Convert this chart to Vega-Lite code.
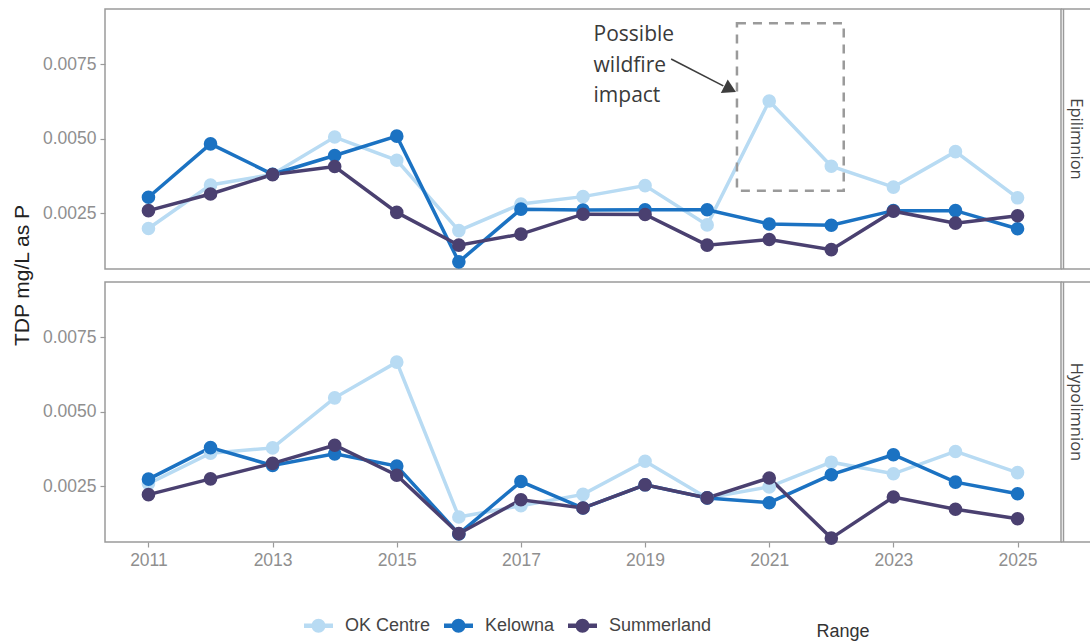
{
  "$schema": "https://vega.github.io/schema/vega-lite/v6.json",
  "background": "white",
  "padding": {"left": 11, "top": 7, "right": 0, "bottom": 0},
  "bounds": "flush",
  "data": {"values": [
    {"k":"obs","layer":"Epilimnion","site":"OK Centre","year":2011,"tdp":0.00198},
    {"k":"obs","layer":"Epilimnion","site":"OK Centre","year":2012,"tdp":0.00344},
    {"k":"obs","layer":"Epilimnion","site":"OK Centre","year":2013,"tdp":0.0038},
    {"k":"obs","layer":"Epilimnion","site":"OK Centre","year":2014,"tdp":0.00505},
    {"k":"obs","layer":"Epilimnion","site":"OK Centre","year":2015,"tdp":0.00427},
    {"k":"obs","layer":"Epilimnion","site":"OK Centre","year":2016,"tdp":0.00191},
    {"k":"obs","layer":"Epilimnion","site":"OK Centre","year":2017,"tdp":0.0028},
    {"k":"obs","layer":"Epilimnion","site":"OK Centre","year":2018,"tdp":0.00305},
    {"k":"obs","layer":"Epilimnion","site":"OK Centre","year":2019,"tdp":0.00342},
    {"k":"obs","layer":"Epilimnion","site":"OK Centre","year":2020,"tdp":0.0021},
    {"k":"obs","layer":"Epilimnion","site":"OK Centre","year":2021,"tdp":0.00626},
    {"k":"obs","layer":"Epilimnion","site":"OK Centre","year":2022,"tdp":0.00407},
    {"k":"obs","layer":"Epilimnion","site":"OK Centre","year":2023,"tdp":0.00337},
    {"k":"obs","layer":"Epilimnion","site":"OK Centre","year":2024,"tdp":0.00456},
    {"k":"obs","layer":"Epilimnion","site":"OK Centre","year":2025,"tdp":0.00301},
    {"k":"obs","layer":"Hypolimnion","site":"OK Centre","year":2011,"tdp":0.00258},
    {"k":"obs","layer":"Hypolimnion","site":"OK Centre","year":2012,"tdp":0.0036},
    {"k":"obs","layer":"Hypolimnion","site":"OK Centre","year":2013,"tdp":0.00378},
    {"k":"obs","layer":"Hypolimnion","site":"OK Centre","year":2014,"tdp":0.00546},
    {"k":"obs","layer":"Hypolimnion","site":"OK Centre","year":2015,"tdp":0.00666},
    {"k":"obs","layer":"Hypolimnion","site":"OK Centre","year":2016,"tdp":0.00146},
    {"k":"obs","layer":"Hypolimnion","site":"OK Centre","year":2017,"tdp":0.00184},
    {"k":"obs","layer":"Hypolimnion","site":"OK Centre","year":2018,"tdp":0.00222},
    {"k":"obs","layer":"Hypolimnion","site":"OK Centre","year":2019,"tdp":0.00333},
    {"k":"obs","layer":"Hypolimnion","site":"OK Centre","year":2020,"tdp":0.0021},
    {"k":"obs","layer":"Hypolimnion","site":"OK Centre","year":2021,"tdp":0.00247},
    {"k":"obs","layer":"Hypolimnion","site":"OK Centre","year":2022,"tdp":0.0033},
    {"k":"obs","layer":"Hypolimnion","site":"OK Centre","year":2023,"tdp":0.00291},
    {"k":"obs","layer":"Hypolimnion","site":"OK Centre","year":2024,"tdp":0.00366},
    {"k":"obs","layer":"Hypolimnion","site":"OK Centre","year":2025,"tdp":0.00295},
    {"k":"obs","layer":"Epilimnion","site":"Kelowna","year":2011,"tdp":0.00303},
    {"k":"obs","layer":"Epilimnion","site":"Kelowna","year":2012,"tdp":0.00482},
    {"k":"obs","layer":"Epilimnion","site":"Kelowna","year":2013,"tdp":0.0038},
    {"k":"obs","layer":"Epilimnion","site":"Kelowna","year":2014,"tdp":0.00443},
    {"k":"obs","layer":"Epilimnion","site":"Kelowna","year":2015,"tdp":0.00508},
    {"k":"obs","layer":"Epilimnion","site":"Kelowna","year":2016,"tdp":0.00086},
    {"k":"obs","layer":"Epilimnion","site":"Kelowna","year":2017,"tdp":0.00263},
    {"k":"obs","layer":"Epilimnion","site":"Kelowna","year":2018,"tdp":0.0026},
    {"k":"obs","layer":"Epilimnion","site":"Kelowna","year":2019,"tdp":0.00261},
    {"k":"obs","layer":"Epilimnion","site":"Kelowna","year":2020,"tdp":0.00261},
    {"k":"obs","layer":"Epilimnion","site":"Kelowna","year":2021,"tdp":0.00213},
    {"k":"obs","layer":"Epilimnion","site":"Kelowna","year":2022,"tdp":0.00209},
    {"k":"obs","layer":"Epilimnion","site":"Kelowna","year":2023,"tdp":0.00258},
    {"k":"obs","layer":"Epilimnion","site":"Kelowna","year":2024,"tdp":0.00258},
    {"k":"obs","layer":"Epilimnion","site":"Kelowna","year":2025,"tdp":0.00197},
    {"k":"obs","layer":"Hypolimnion","site":"Kelowna","year":2011,"tdp":0.00273},
    {"k":"obs","layer":"Hypolimnion","site":"Kelowna","year":2012,"tdp":0.00379},
    {"k":"obs","layer":"Hypolimnion","site":"Kelowna","year":2013,"tdp":0.00319},
    {"k":"obs","layer":"Hypolimnion","site":"Kelowna","year":2014,"tdp":0.00358},
    {"k":"obs","layer":"Hypolimnion","site":"Kelowna","year":2015,"tdp":0.00317},
    {"k":"obs","layer":"Hypolimnion","site":"Kelowna","year":2016,"tdp":0.00089},
    {"k":"obs","layer":"Hypolimnion","site":"Kelowna","year":2017,"tdp":0.00265},
    {"k":"obs","layer":"Hypolimnion","site":"Kelowna","year":2018,"tdp":0.00176},
    {"k":"obs","layer":"Hypolimnion","site":"Kelowna","year":2019,"tdp":0.00254},
    {"k":"obs","layer":"Hypolimnion","site":"Kelowna","year":2020,"tdp":0.0021},
    {"k":"obs","layer":"Hypolimnion","site":"Kelowna","year":2021,"tdp":0.00194},
    {"k":"obs","layer":"Hypolimnion","site":"Kelowna","year":2022,"tdp":0.00288},
    {"k":"obs","layer":"Hypolimnion","site":"Kelowna","year":2023,"tdp":0.00355},
    {"k":"obs","layer":"Hypolimnion","site":"Kelowna","year":2024,"tdp":0.00263},
    {"k":"obs","layer":"Hypolimnion","site":"Kelowna","year":2025,"tdp":0.00224},
    {"k":"obs","layer":"Epilimnion","site":"Summerland","year":2011,"tdp":0.00258},
    {"k":"obs","layer":"Epilimnion","site":"Summerland","year":2012,"tdp":0.00314},
    {"k":"obs","layer":"Epilimnion","site":"Summerland","year":2013,"tdp":0.00379},
    {"k":"obs","layer":"Epilimnion","site":"Summerland","year":2014,"tdp":0.00406},
    {"k":"obs","layer":"Epilimnion","site":"Summerland","year":2015,"tdp":0.00252},
    {"k":"obs","layer":"Epilimnion","site":"Summerland","year":2016,"tdp":0.00142},
    {"k":"obs","layer":"Epilimnion","site":"Summerland","year":2017,"tdp":0.00179},
    {"k":"obs","layer":"Epilimnion","site":"Summerland","year":2018,"tdp":0.00246},
    {"k":"obs","layer":"Epilimnion","site":"Summerland","year":2019,"tdp":0.00245},
    {"k":"obs","layer":"Epilimnion","site":"Summerland","year":2020,"tdp":0.00142},
    {"k":"obs","layer":"Epilimnion","site":"Summerland","year":2021,"tdp":0.00161},
    {"k":"obs","layer":"Epilimnion","site":"Summerland","year":2022,"tdp":0.00127},
    {"k":"obs","layer":"Epilimnion","site":"Summerland","year":2023,"tdp":0.00256},
    {"k":"obs","layer":"Epilimnion","site":"Summerland","year":2024,"tdp":0.00216},
    {"k":"obs","layer":"Epilimnion","site":"Summerland","year":2025,"tdp":0.00241},
    {"k":"obs","layer":"Hypolimnion","site":"Summerland","year":2011,"tdp":0.00221},
    {"k":"obs","layer":"Hypolimnion","site":"Summerland","year":2012,"tdp":0.00274},
    {"k":"obs","layer":"Hypolimnion","site":"Summerland","year":2013,"tdp":0.00326},
    {"k":"obs","layer":"Hypolimnion","site":"Summerland","year":2014,"tdp":0.00387},
    {"k":"obs","layer":"Hypolimnion","site":"Summerland","year":2015,"tdp":0.00286},
    {"k":"obs","layer":"Hypolimnion","site":"Summerland","year":2016,"tdp":0.0009},
    {"k":"obs","layer":"Hypolimnion","site":"Summerland","year":2017,"tdp":0.00204},
    {"k":"obs","layer":"Hypolimnion","site":"Summerland","year":2018,"tdp":0.00176},
    {"k":"obs","layer":"Hypolimnion","site":"Summerland","year":2019,"tdp":0.00254},
    {"k":"obs","layer":"Hypolimnion","site":"Summerland","year":2020,"tdp":0.0021},
    {"k":"obs","layer":"Hypolimnion","site":"Summerland","year":2021,"tdp":0.00277},
    {"k":"obs","layer":"Hypolimnion","site":"Summerland","year":2022,"tdp":0.00075},
    {"k":"obs","layer":"Hypolimnion","site":"Summerland","year":2023,"tdp":0.00213},
    {"k":"obs","layer":"Hypolimnion","site":"Summerland","year":2024,"tdp":0.00172},
    {"k":"obs","layer":"Hypolimnion","site":"Summerland","year":2025,"tdp":0.0014},
    {"k":"box","layer":"Epilimnion","year":2020.48,"year2":2022.2,"tdp":0.00325,"tdp2":0.00887},
    {"k":"arrow","layer":"Epilimnion","year":2019.42,"year2":2020.26,"tdp":0.00767,"tdp2":0.00677},
    {"k":"head","layer":"Epilimnion","year":2020.37,"tdp":0.00666},
    {"k":"note","layer":"Epilimnion","year":2018.17,"tdp":0.00827,"label":"Possible"},
    {"k":"note","layer":"Epilimnion","year":2018.17,"tdp":0.00724,"label":"wildfire"},
    {"k":"note","layer":"Epilimnion","year":2018.17,"tdp":0.00623,"label":"impact"},
    {"k":"ytitle","layer":"Epilimnion","year":2008.98,"tdp":0.000402,"label":"TDP  mg/L as P"},
    {"k":"range","layer":"Hypolimnion","year":2021.76,"tdp":-0.0024,"label":"Range"},
    {"k":"stripv","layer":"Epilimnion","year":2025.74,"tdp":0.00062,"tdp2":0.00935},
    {"k":"stripv","layer":"Hypolimnion","year":2025.74,"tdp":0.00062,"tdp2":0.00935},
    {"k":"striph","layer":"Epilimnion","year":2025.7,"year2":2026.18,"tdp":0.00935},
    {"k":"striph","layer":"Epilimnion","year":2025.7,"year2":2026.18,"tdp":0.00062},
    {"k":"striph","layer":"Hypolimnion","year":2025.7,"year2":2026.18,"tdp":0.00935},
    {"k":"striph","layer":"Hypolimnion","year":2025.7,"year2":2026.18,"tdp":0.00062}
  ]},
  "facet": {
    "row": {
      "field": "layer", "type": "nominal", "sort": ["Epilimnion", "Hypolimnion"],
      "title": null,
      "header": {
        "labelOrient": "right", "labelAngle": 90, "labelFont": "Open Sans",
        "labelFontSize": 16.5, "labelColor": "#444", "labelPadding": 6
      }
    }
  },
  "spacing": 13,
  "spec": {
    "width": 956,
    "height": 260,
    "encoding": {
      "x": {"field": "year", "type": "quantitative",
            "scale": {"domain": [2010.3, 2025.7], "nice": false, "zero": false},
            "axis": {"title": null, "values": [2011, 2013, 2015, 2017, 2019, 2021, 2023, 2025], "format": "d"}},
      "y": {"field": "tdp", "type": "quantitative",
            "scale": {"domain": [0.00062, 0.00935], "nice": false, "zero": false},
            "axis": {"title": null, "values": [0.0025, 0.005, 0.0075], "format": ".4f"}}
    },
    "layer": [
      {
        "transform": [{"filter": "datum.k === 'obs'"}],
        "mark": {"type": "line", "strokeWidth": 3.5},
        "encoding": {
          "color": {"field": "site", "type": "nominal",
                    "scale": {"domain": ["OK Centre", "Kelowna", "Summerland"], "range": ["#b8dbf3", "#1b72c2", "#4a4070"]}}
        }
      },
      {
        "transform": [{"filter": "datum.k === 'obs'"}],
        "mark": {"type": "point", "filled": true, "size": 185, "opacity": 1, "strokeWidth": 0},
        "encoding": {
          "color": {"field": "site", "type": "nominal",
                    "scale": {"domain": ["OK Centre", "Kelowna", "Summerland"], "range": ["#b8dbf3", "#1b72c2", "#4a4070"]},
                    "legend": {
                      "title": null, "orient": "none", "direction": "horizontal",
                      "legendX": 199, "legendY": 602,
                      "symbolType": "M-1,-0.15L1,-0.15L1,0.15L-1,0.15Z M0.48,0A0.48,0.48 0 1,1 -0.48,0A0.48,0.48 0 1,1 0.48,0Z",
                      "symbolSize": 841, "symbolStrokeWidth": 0, "symbolOpacity": 1,
                      "labelFont": "Liberation Sans", "labelFontSize": 18, "labelColor": "#444",
                      "labelOffset": 12, "columnPadding": 13, "padding": 0
                    }}
        }
      },
      {
        "transform": [{"filter": "datum.k === 'box'"}],
        "mark": {"type": "rect", "fill": null, "fillOpacity": 0, "stroke": "#9a9a9a", "strokeWidth": 2.5, "strokeDash": [9, 7]},
        "encoding": {"x2": {"field": "year2"}, "y2": {"field": "tdp2"}}
      },
      {
        "transform": [{"filter": "datum.k === 'arrow'"}],
        "mark": {"type": "rule", "color": "#3d3d3d", "strokeWidth": 1.6},
        "encoding": {"x2": {"field": "year2"}, "y2": {"field": "tdp2"}}
      },
      {
        "transform": [{"filter": "datum.k === 'head'"}],
        "mark": {"type": "point", "shape": "triangle-right", "angle": 27, "size": 230, "filled": true, "color": "#3d3d3d", "opacity": 1}
      },
      {
        "transform": [{"filter": "datum.k === 'note'"}],
        "mark": {"type": "text", "align": "left", "baseline": "alphabetic", "font": "Open Sans", "fontSize": 21, "color": "#3a3a3a"},
        "encoding": {"text": {"field": "label"}}
      },
      {
        "transform": [{"filter": "datum.k === 'ytitle'"}],
        "mark": {"type": "text", "align": "center", "baseline": "middle", "angle": 270, "font": "Liberation Sans", "fontSize": 21, "color": "#222"},
        "encoding": {"text": {"field": "label"}}
      },
      {
        "transform": [{"filter": "datum.k === 'range'"}],
        "mark": {"type": "text", "align": "left", "baseline": "middle", "font": "Liberation Sans", "fontSize": 18, "color": "#333"},
        "encoding": {"text": {"field": "label"}}
      },
      {
        "transform": [{"filter": "datum.k === 'stripv'"}],
        "mark": {"type": "rule", "color": "#9a9a9a", "strokeWidth": 1.5},
        "encoding": {"y2": {"field": "tdp2"}}
      },
      {
        "transform": [{"filter": "datum.k === 'striph'"}],
        "mark": {"type": "rule", "color": "#9a9a9a", "strokeWidth": 1.5},
        "encoding": {"x2": {"field": "year2"}}
      }
    ]
  },
  "config": {
    "view": {"stroke": "#9a9a9a", "strokeWidth": 1.5},
    "axis": {
      "grid": false, "domain": false,
      "labelFont": "Liberation Sans", "labelFontSize": 17.5, "labelColor": "#8f8f8f",
      "tickColor": "#9a9a9a", "tickSize": 5, "tickWidth": 1.2, "labelPadding": 4
    }
  }
}
